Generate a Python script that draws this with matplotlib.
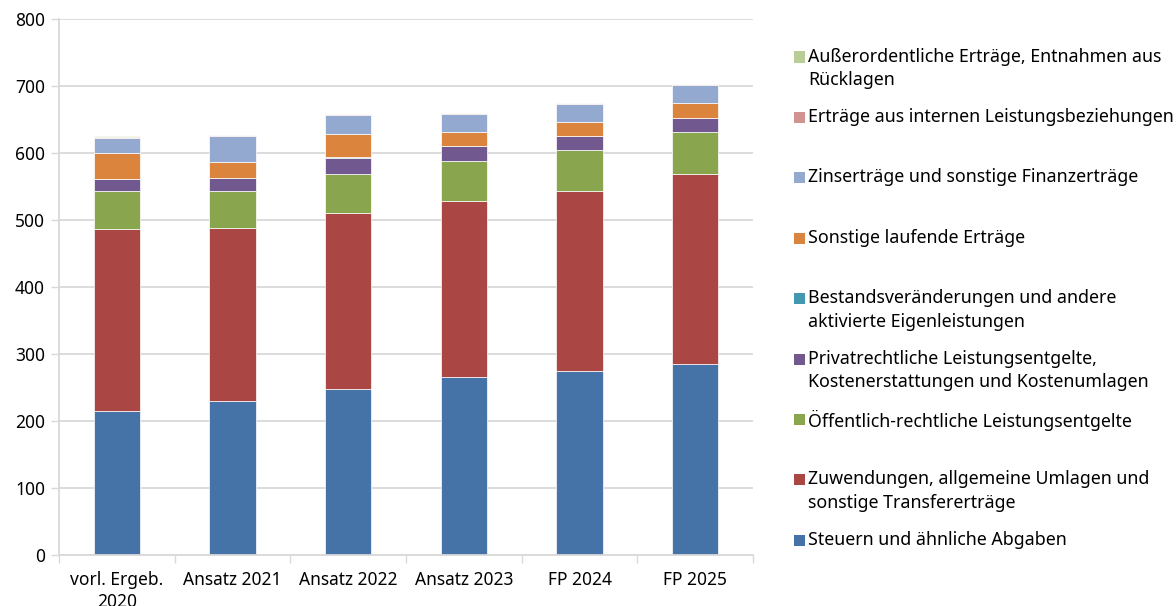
import matplotlib
matplotlib.use("Agg")
import matplotlib.pyplot as plt
import numpy as np
from matplotlib.patches import Rectangle

plt.rcParams['font.family'] = ['Noto Sans', 'DejaVu Sans']

categories = ['vorl. Ergeb.\n2020', 'Ansatz 2021', 'Ansatz 2022', 'Ansatz 2023', 'FP 2024', 'FP 2025']

# Werte in Mio. EUR, von unten nach oben gestapelt
steuern = [215, 230, 248, 266, 275, 285.5]
zuwendungen = [272.5, 259, 262.5, 262.5, 268, 283]
oeffentlich = [56, 55, 58.5, 60.5, 62, 63.5]
privat = [18.5, 19, 24.5, 21.5, 21, 21]
bestand = [0.3, 0.3, 0.3, 0.3, 0.3, 0.3]
sonstige = [38, 24, 35.5, 21.5, 21, 21.3]
zinsen = [23, 38.8, 27.8, 26.4, 26.9, 26.8]
intern = [0.3, 1.2, 1.2, 1.5, 1.5, 1.5]
ausserordentlich = [2, 0, 0, 0, 0, 0]

series = [
    ('Steuern und ähnliche Abgaben', steuern, '#4572a7'),
    ('Zuwendungen, allgemeine Umlagen und\nsonstige Transfererträge', zuwendungen, '#aa4643'),
    ('Öffentlich-rechtliche Leistungsentgelte', oeffentlich, '#89a54e'),
    ('Privatrechtliche Leistungsentgelte,\nKostenerstattungen und Kostenumlagen', privat, '#71588f'),
    ('Bestandsveränderungen und andere\naktivierte Eigenleistungen', bestand, '#4198af'),
    ('Sonstige laufende Erträge', sonstige, '#db843d'),
    ('Zinserträge und sonstige Finanzerträge', zinsen, '#93a9cf'),
    ('Erträge aus internen Leistungsbeziehungen', intern, '#d19392'),
    ('Außerordentliche Erträge, Entnahmen aus\nRücklagen', ausserordentlich, '#b9cd96'),
]

fig = plt.figure(figsize=(11.76, 6.06), dpi=100)
ax = fig.add_axes([59 / 1176, 1 - 555.3 / 606, (753 - 59) / 1176, 536 / 606])

x = np.arange(len(categories))
bottom = np.zeros(len(categories))
for name, vals, col in series:
    ax.bar(x, vals, bottom=bottom, width=0.4, color=col, edgecolor='white', linewidth=0.5)
    bottom += np.array(vals)

ax.set_xlim(-0.5, len(categories) - 0.5)
ax.set_ylim(0, 800)
ax.set_yticks(range(0, 801, 100))
ax.set_xticks(x)
ax.set_xticklabels(categories, fontsize=12.5, linespacing=1.35)
ax.set_xticks(np.arange(-0.5, len(categories), 1), minor=True)
ax.tick_params(axis='x', which='major', length=0, pad=11)
ax.tick_params(axis='x', which='minor', length=6, color='#d9d9d9', width=1)
ax.tick_params(axis='y', length=6, color='#d9d9d9', width=1, labelsize=12.5, pad=4)
ax.grid(axis='y', color='#d9d9d9', linewidth=1.3)
ax.set_axisbelow(True)
for s in ['top', 'right']:
    ax.spines[s].set_visible(False)
for s in ['left', 'bottom']:
    ax.spines[s].set_color('#d9d9d9')
    ax.spines[s].set_linewidth(1.3)

# Legende rechts (manuell, oben beginnend)
leg_y0 = 57
leg_step = 60.4
for i, (name, vals, col) in enumerate(reversed(series)):
    yc = leg_y0 + i * leg_step
    fig.add_artist(Rectangle((794 / 1176, 1 - (yc + 5.5) / 606), 11 / 1176, 11 / 606,
                             transform=fig.transFigure, color=col, lw=0))
    fig.text(808 / 1176, 1 - (yc - 9.5) / 606, name, fontsize=12.8, va='top', ha='left',
             linespacing=1.4)

fig.savefig('out.png', dpi=100)
